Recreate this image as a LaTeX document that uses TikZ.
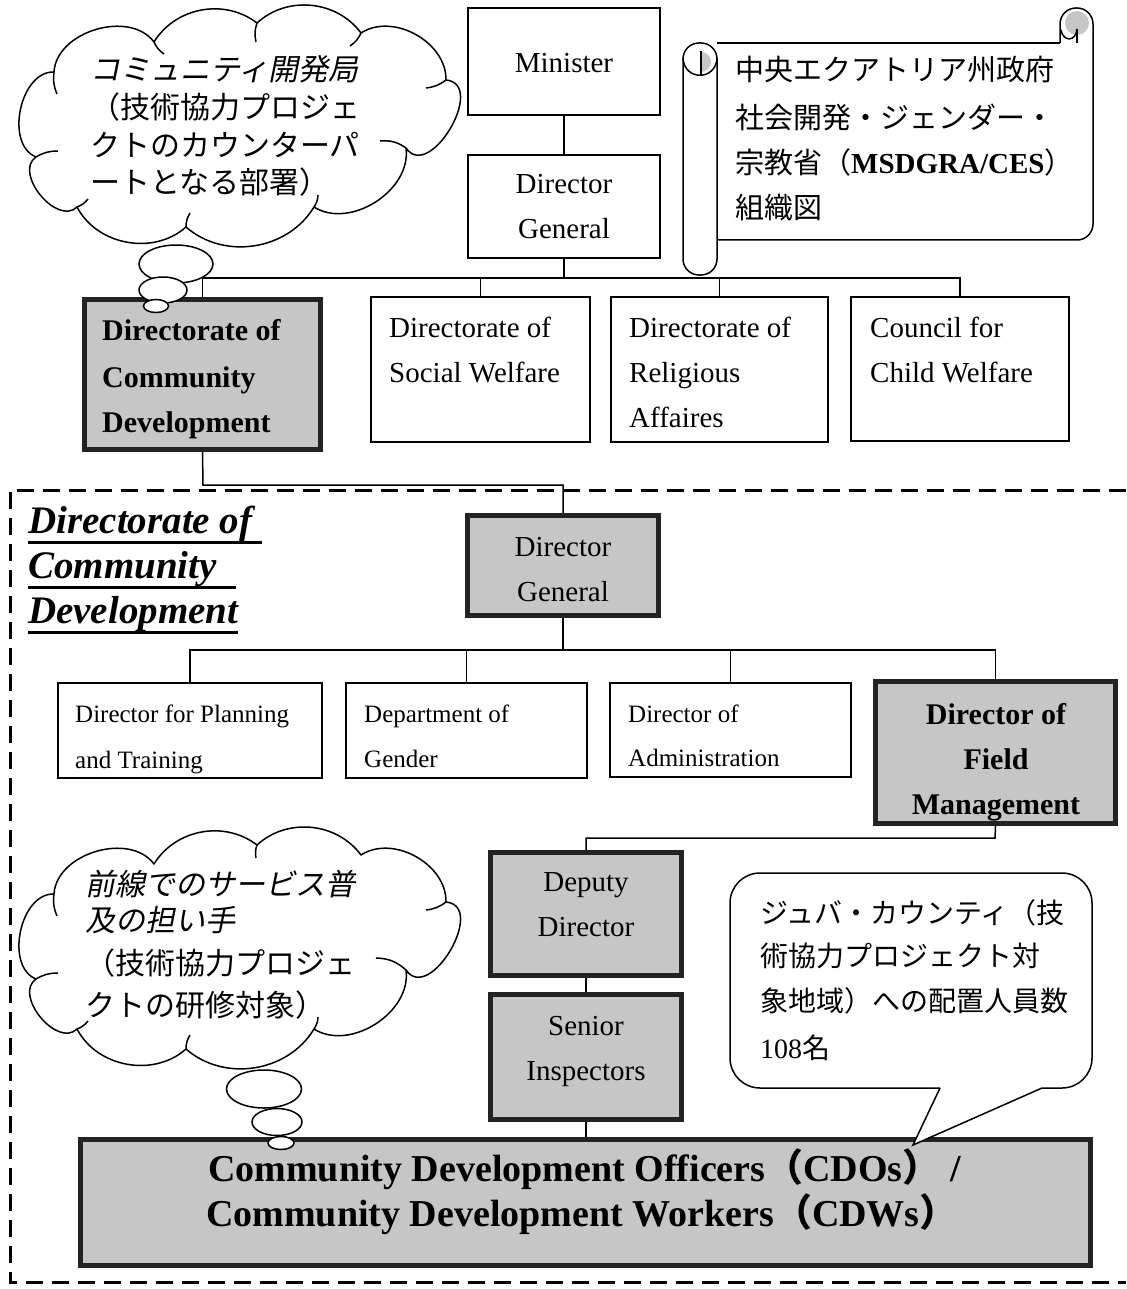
\documentclass[tikz,border=0pt]{standalone}
\usepackage{fontspec}
\setmainfont{Liberation Serif}
\newfontfamily\jp{Noto Sans CJK JP}
\newfontfamily\jpit{Noto Sans CJK JP}[FakeSlant=0.2]
\usetikzlibrary{shapes.geometric}
\definecolor{boxgray}{RGB}{198,198,198}
\definecolor{boxline}{RGB}{35,35,35}
\newcommand\fsz[2]{\fontsize{#1}{#2}\selectfont}
\newcommand\thul[1]{\setbox0=\hbox{#1}\rlap{\raisebox{-11pt}{\rule{\wd0}{2.8pt}}}\box0}
\newcommand\cloudoutline{(54,72) to[bend left=70] (154,42) to[bend left=48] (257,23)
  to[bend left=48] (361,33) to[bend left=62] (446,80) to[bend left=115, looseness=1.35] (406,148)
  to[bend left=65] (314,207) to[bend left=50] (186,227) to[bend left=52] (77,207)
  to[bend left=95, looseness=1.1] (36,157) to[bend left=80] (54,72)}
\begin{document}
\begin{tikzpicture}[x=1pt,y=-1pt,
  tbox/.style={draw=black, line width=1.6pt, fill=white, inner sep=0pt},
  kbox/.style={draw=boxline, line width=5pt, fill=boxgray, inner sep=0pt},
  conn/.style={line width=1.5pt},
  sline/.style={line width=1.5pt},
  lbl/.style={inner sep=0pt, anchor=base west},
  lblc/.style={inner sep=0pt, anchor=base},
  nf/.style={font=\fsz{29}{29}},
  bf/.style={font=\bfseries\fsz{30}{30}},
  sf/.style={font=\fsz{25}{25}},
  jf/.style={font=\jp\fsz{30}{30}},
  jif/.style={font=\jpit\fsz{30}{30}},
  bubble/.style={ellipse, draw, line width=1.5pt, fill=white, inner sep=0pt},
  cloudline/.style={line width=1.5pt, line join=round},
  dashframe/.style={line width=3pt, dash pattern=on 17pt off 9pt}]
\useasboundingbox (0,0) rectangle (1126,1289);

% ---------- dashed frame ----------
\draw[dashframe] (1126,490) -- (10,490) -- (10,1282) -- (1126,1282);

% ---------- clouds ----------
\draw[cloudline, fill=white] \cloudoutline;
\draw[cloudline] (54,72) to[bend right=15] (57,94);
\draw[cloudline] (154,42) to[bend right=15] (164,54);
\draw[cloudline] (257,23) to[bend right=15] (256,42);
\draw[cloudline] (361,33) to[bend left=15] (350,46);
\draw[cloudline] (446,80) to[bend left=15] (426,88);
\draw[cloudline] (406,148) to[bend right=20] (380,141);
\draw[cloudline] (314,207) to[bend right=15] (318,195);
\draw[cloudline] (186,227) to[bend left=15] (190,213);
\draw[cloudline] (77,207) to[bend right=15] (88,199);
\draw[cloudline] (36,157) to[bend left=15] (58,151);
\begin{scope}[shift={(0,822)}]
\draw[cloudline, fill=white] \cloudoutline;
\draw[cloudline] (54,72) to[bend right=15] (57,94);
\draw[cloudline] (257,23) to[bend right=15] (256,36);
\draw[cloudline] (446,80) to[bend left=15] (426,88);
\draw[cloudline] (406,148) to[bend right=20] (376,136);
\draw[cloudline] (314,207) to[bend right=15] (318,195);
\draw[cloudline] (186,227) to[bend left=15] (190,213);
\draw[cloudline] (77,207) to[bend right=15] (88,199);
\draw[cloudline] (36,157) to[bend left=15] (58,151);
\end{scope}

% ---------- top level boxes ----------
\node[tbox, minimum width=192pt, minimum height=107pt] (minister) at (564,61.5) {};
\node[tbox, minimum width=192pt, minimum height=103pt] (dg1) at (564,206.5) {};
\node[kbox, minimum width=236pt, minimum height=150pt] (dcd) at (202.5,374.5) {};
\node[tbox, minimum width=219pt, minimum height=145pt] (sw) at (480.5,369.5) {};
\node[tbox, minimum width=217pt, minimum height=145pt] (rel) at (719.5,369.5) {};
\node[tbox, minimum width=218pt, minimum height=144pt] (ccw) at (960,369) {};

% ---------- scroll ----------
\draw[sline] (717,43) -- (1060,43);
\fill[boxgray] (1077,23) circle[radius=12pt];
\draw[sline, rounded corners=16pt] (1060,43) -- (1060,8) -- (1093,8) -- (1093,240) -- (717,240);
\draw[sline] (1061,30) .. controls (1063,42) and (1076,42) .. (1077,29);
\draw[sline] (1077,29) -- (1077,43);
\draw[sline, fill=white, rounded corners=16pt] (683,43) rectangle (717,275);
\begin{scope}
  \clip (701,40) rectangle (720,80);
  \fill[boxgray] (701,62) circle[radius=10pt];
\end{scope}
\draw[sline] (683,58) .. controls (684,81) and (716,81) .. (717,58);
\draw[sline] (701,51) -- (701,76);

% ---------- top connectors ----------
\coordinate (bus1) at (564,278);
\draw[conn] (minister.south) -- (dg1.north);
\draw[conn] (dg1.south) -- (bus1);
\draw[conn] (dcd.north) -- (dcd.north |- bus1) -- (ccw.north |- bus1) -- (ccw.north);
\draw[conn] (sw.north) -- (sw.north |- bus1);
\draw[conn] (rel.north) -- (rel.north |- bus1);

% ---------- inner boxes ----------
\node[kbox, minimum width=191pt, minimum height=100pt] (dg2) at (563,565.5) {};
\node[tbox, minimum width=264pt, minimum height=95pt] (plan) at (190,730.5) {};
\node[tbox, minimum width=241pt, minimum height=95pt] (gen) at (466.5,730.5) {};
\node[tbox, minimum width=241pt, minimum height=94pt] (adm) at (730.5,730) {};
\node[kbox, minimum width=240pt, minimum height=142pt] (fm) at (995.5,752.5) {};
\node[kbox, minimum width=191pt, minimum height=123pt] (dep) at (586,914) {};
\node[kbox, minimum width=191pt, minimum height=125pt] (sen) at (586,1057) {};
\node[kbox, minimum width=1010pt, minimum height=126pt] (cdo) at (585.5,1202.5) {};

% ---------- inner connectors ----------
\coordinate (jdcd) at (203,485);
\coordinate (bus2) at (563,650);
\coordinate (jfm) at (995,838);
\draw[conn] (dcd.south) -- (jdcd) -| (dg2.north);
\draw[conn] (dg2.south) -- (bus2);
\draw[conn] (plan.north) -- (plan.north |- bus2) -- (fm.north |- bus2) -- (fm.north);
\draw[conn] (gen.north) -- (gen.north |- bus2);
\draw[conn] (adm.north) -- (adm.north |- bus2);
\draw[conn] (fm.south) -- (jfm) -| (dep.north);
\draw[conn] (dep.south) -- (sen.north);
\draw[conn] (sen.south) -- (sen.south |- cdo.north);

% ---------- thought bubbles ----------
\node[bubble, minimum width=74pt, minimum height=38pt] (b1a) at (176,264) {};
\node[bubble, minimum width=48pt, minimum height=26pt] (b1b) at (163,290) {};
\node[bubble, minimum width=25pt, minimum height=13pt] (b1c) at (156,306) {};
\node[bubble, minimum width=75pt, minimum height=38pt] (b2a) at (264,1089) {};
\node[bubble, minimum width=50pt, minimum height=27pt] (b2b) at (277,1122) {};
\node[bubble, minimum width=26pt, minimum height=13pt] (b2c) at (281,1143) {};

% ---------- callout ----------
\fill[white, rounded corners=30pt] (730,873) rectangle (1092,1088);
\fill[white] (940,1085) -- (913,1145) -- (1042,1085) -- cycle;
\draw[sline, rounded corners=30pt] (1042,1088) -- (1092,1088) -- (1092,873) -- (730,873) -- (730,1088) -- (940,1088);
\draw[sline] (940,1088) -- (913,1145) -- (1042,1088);

% ---------- texts ----------
\node[lblc, nf] (tmin) at (564,73) {Minister};
\node[lblc, nf] (tdg1a) at (564,194) {Director};
\node[lblc, nf] (tdg1b) at (564,239) {General};
\node[lbl, bf] (tdcd1) at (102,340) {Directorate of};
\node[lbl, bf] (tdcd2) at (102,387) {Community};
\node[lbl, bf] (tdcd3) at (102,432) {Development};
\node[lbl, nf] (tsw1) at (389,337) {Directorate of};
\node[lbl, nf] (tsw2) at (389,382) {Social Welfare};
\node[lbl, nf] (trel1) at (629,337) {Directorate of};
\node[lbl, nf] (trel2) at (629,382) {Religious};
\node[lbl, nf] (trel3) at (629,427) {Affaires};
\node[lbl, nf] (tccw1) at (870,337) {Council for};
\node[lbl, nf] (tccw2) at (870,382) {Child Welfare};

\node[lbl, font=\jp\fsz{29}{29}] (tsc1) at (735,81) {中央エクアトリア州政府};
\node[lbl, font=\jp\fsz{29}{29}] (tsc2) at (735,129) {社会開発・ジェンダー・};
\node[lbl, font=\fsz{29}{29}] (tsc3) at (735,174) {{\jp 宗教省（}\textbf{MSDGRA/CES}{\jp ）}};
\node[lbl, font=\jp\fsz{29}{29}] (tsc4) at (735,219) {組織図};

\node[lbl, font=\bfseries\itshape\fsz{39}{39}] (tt1) at (28,533) {\thul{Directorate of\ }};
\node[lbl, font=\bfseries\itshape\fsz{39}{39}] (tt2) at (28,578) {\thul{Community\ \ }};
\node[lbl, font=\bfseries\itshape\fsz{39}{39}] (tt3) at (28,623) {\thul{Development}};

\node[lblc, nf] (tdg2a) at (563,556) {Director};
\node[lblc, nf] (tdg2b) at (563,601) {General};
\node[lbl, sf] (tpl1) at (75,722) {Director for Planning};
\node[lbl, sf] (tpl2) at (75,768) {and Training};
\node[lbl, sf] (tgen1) at (364,722) {Department of};
\node[lbl, sf] (tgen2) at (364,767) {Gender};
\node[lbl, sf] (tadm1) at (628,722) {Director of};
\node[lbl, sf] (tadm2) at (628,766) {Administration};
\node[lblc, bf] (tfm1) at (996,724) {Director of};
\node[lblc, bf] (tfm2) at (996,769) {Field};
\node[lblc, bf] (tfm3) at (996,814) {Management};
\node[lblc, nf] (tdep1) at (586,891) {Deputy};
\node[lblc, nf] (tdep2) at (586,936) {Director};
\node[lblc, nf] (tsen1) at (586,1035) {Senior};
\node[lblc, nf] (tsen2) at (586,1080) {Inspectors};
\node[lbl, font=\bfseries\fsz{38}{38}] (tcdo1) at (208,1181) {Community Development Officers{\jp （}CDOs{\jp ）} /};
\node[lbl, font=\bfseries\fsz{38}{38}] (tcdo2) at (206,1226) {Community Development Workers{\jp （}CDWs{\jp ）}};

\node[lbl, jif] (tc1a) at (90,81) {コミュニティ開発局};
\node[lbl, jf] (tc1b) at (90,119) {（技術協力プロジェ};
\node[lbl, jf] (tc1c) at (90,157) {クトのカウンターパ};
\node[lbl, jf] (tc1d) at (90,194) {ートとなる部署）};

\node[lbl, jif] (tc2a) at (85,895) {前線でのサービス普};
\node[lbl, jif] (tc2b) at (85,931) {及の担い手};
\node[lbl, jf] (tc2c) at (85,974) {（技術協力プロジェ};
\node[lbl, jf] (tc2d) at (85,1016) {クトの研修対象）};

\node[lbl, font=\jp\fsz{28}{28}] (tco1) at (760,923) {ジュバ・カウンティ（技};
\node[lbl, font=\jp\fsz{28}{28}] (tco2) at (760,966) {術協力プロジェクト対};
\node[lbl, font=\jp\fsz{28}{28}] (tco3) at (760,1011) {象地域）への配置人員数};
\node[lbl, font=\fsz{28}{28}] (tco4) at (760,1058) {108{\jp 名}};
\end{tikzpicture}
\end{document}
